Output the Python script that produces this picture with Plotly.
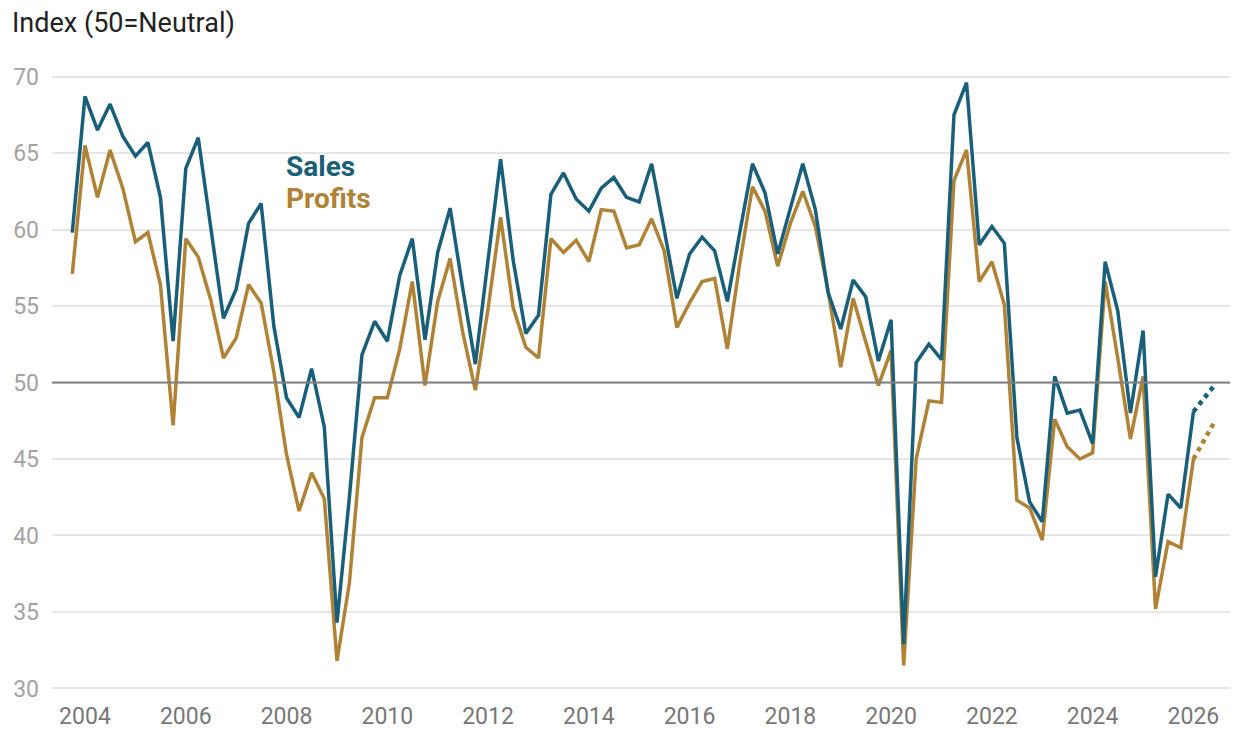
import pandas as pd
import plotly.graph_objects as go

# Quarterly survey dates (quarter starts), Q4 2003 .. Q1 2026
quarters = pd.period_range("2003Q4", periods=90, freq="Q").to_timestamp()

sales = [59.8, 68.7, 66.5, 68.2, 66.1, 64.8, 65.7, 62.1, 52.7, 64.0,
         66.0, 60.2, 54.2, 56.1, 60.4, 61.7, 53.7, 49.0, 47.7, 50.9,
         47.1, 34.3, 42.5, 51.8, 54.0, 52.7, 57.0, 59.4, 52.8, 58.5,
         61.4, 56.2, 51.2, 58.0, 64.6, 58.0, 53.2, 54.4, 62.3, 63.7,
         62.0, 61.2, 62.7, 63.4, 62.1, 61.8, 64.3, 60.0, 55.5, 58.4,
         59.5, 58.6, 55.3, 59.9, 64.3, 62.4, 58.4, 61.4, 64.3, 61.3,
         55.9, 53.5, 56.7, 55.6, 51.4, 54.1, 32.9, 51.3, 52.5, 51.5,
         67.5, 69.6, 59.0, 60.2, 59.1, 46.4, 42.2, 40.9, 50.4, 48.0,
         48.2, 46.0, 57.9, 54.7, 48.0, 53.4, 37.3, 42.7, 41.8, 48.1]

profits = [57.1, 65.5, 62.1, 65.2, 62.7, 59.2, 59.8, 56.4, 47.2, 59.4,
           58.2, 55.4, 51.6, 52.9, 56.4, 55.2, 50.7, 45.3, 41.6, 44.1,
           42.4, 31.8, 36.9, 46.4, 49.0, 49.0, 52.2, 56.6, 49.8, 55.3,
           58.1, 53.3, 49.5, 54.8, 60.8, 54.9, 52.3, 51.6, 59.4, 58.5,
           59.3, 57.9, 61.3, 61.2, 58.8, 59.0, 60.7, 58.6, 53.6, 55.2,
           56.6, 56.8, 52.2, 57.9, 62.8, 61.2, 57.6, 60.4, 62.5, 60.2,
           56.0, 51.0, 55.5, 52.6, 49.8, 52.1, 31.5, 45.0, 48.8, 48.7,
           63.2, 65.2, 56.6, 57.9, 55.1, 42.3, 41.8, 39.7, 47.6, 45.8,
           45.0, 45.4, 56.6, 51.6, 46.3, 50.4, 35.2, 39.6, 39.2, 45.0]

forecast_date = "2026-06-01"
sales_forecast = 49.8
profits_forecast = 47.4

tick_years = list(range(2004, 2027, 2))

SALES_COLOR = "#1a5f79"
PROFITS_COLOR = "#b08236"

fig = go.Figure()

fig.add_trace(go.Scatter(x=quarters, y=profits, mode="lines",
                         line=dict(color=PROFITS_COLOR, width=3.5), showlegend=False,
                         hoverinfo="skip"))
fig.add_trace(go.Scatter(x=quarters, y=sales, mode="lines",
                         line=dict(color=SALES_COLOR, width=3.5), showlegend=False,
                         hoverinfo="skip"))
fig.add_trace(go.Scatter(x=[quarters[-1], forecast_date], y=[profits[-1], profits_forecast],
                         mode="lines", line=dict(color=PROFITS_COLOR, width=4.5, dash="dot"),
                         showlegend=False, hoverinfo="skip"))
fig.add_trace(go.Scatter(x=[quarters[-1], forecast_date], y=[sales[-1], sales_forecast],
                         mode="lines", line=dict(color=SALES_COLOR, width=4.5, dash="dot"),
                         showlegend=False, hoverinfo="skip"))

# neutral line
fig.add_hline(y=50, line=dict(color="#808080", width=2), layer="above")

fig.add_annotation(x="2007-12-13", y=64.1, xref="x", yref="y", text="<b>Sales</b>",
                   showarrow=False, xanchor="left", yanchor="middle",
                   font=dict(family="Roboto", size=28, color=SALES_COLOR))
fig.add_annotation(x="2007-12-13", y=62.0, xref="x", yref="y", text="<b>Profits</b>",
                   showarrow=False, xanchor="left", yanchor="middle",
                   font=dict(family="Roboto", size=28, color=PROFITS_COLOR))

W, H = 1230, 722  # page body has an 8px margin
fig.update_layout(
    width=W, height=H,
    margin=dict(l=44, r=0, t=67, b=39.5),
    paper_bgcolor="white", plot_bgcolor="white",
    font=dict(family="Roboto"),
    title=dict(text="Index (50=Neutral)", x=4/W, xref="container", xanchor="left",
               y=1 - 15/H, yref="container", yanchor="middle",
               font=dict(family="Roboto", size=27, color="#222222")),
    xaxis=dict(range=["2003-05-07", "2026-11-20"], showgrid=False, zeroline=False,
               showline=False, tickvals=[f"{y}-01-01" for y in tick_years],
               ticktext=[str(y) for y in tick_years], ticks="",
               tickfont=dict(family="Roboto", size=23, color="#777777"),
               ticklabelstandoff=10),
    yaxis=dict(range=[29.9, 70.1], tickvals=[30, 35, 40, 45, 50, 55, 60, 65, 70],
               showgrid=True, gridcolor="#e6e6e6", gridwidth=2, zeroline=False,
               showline=False, ticks="",
               tickfont=dict(family="Roboto", size=23, color="#a3a3a3"),
               ticklabelstandoff=12),
)

fig.write_html("out.html")
